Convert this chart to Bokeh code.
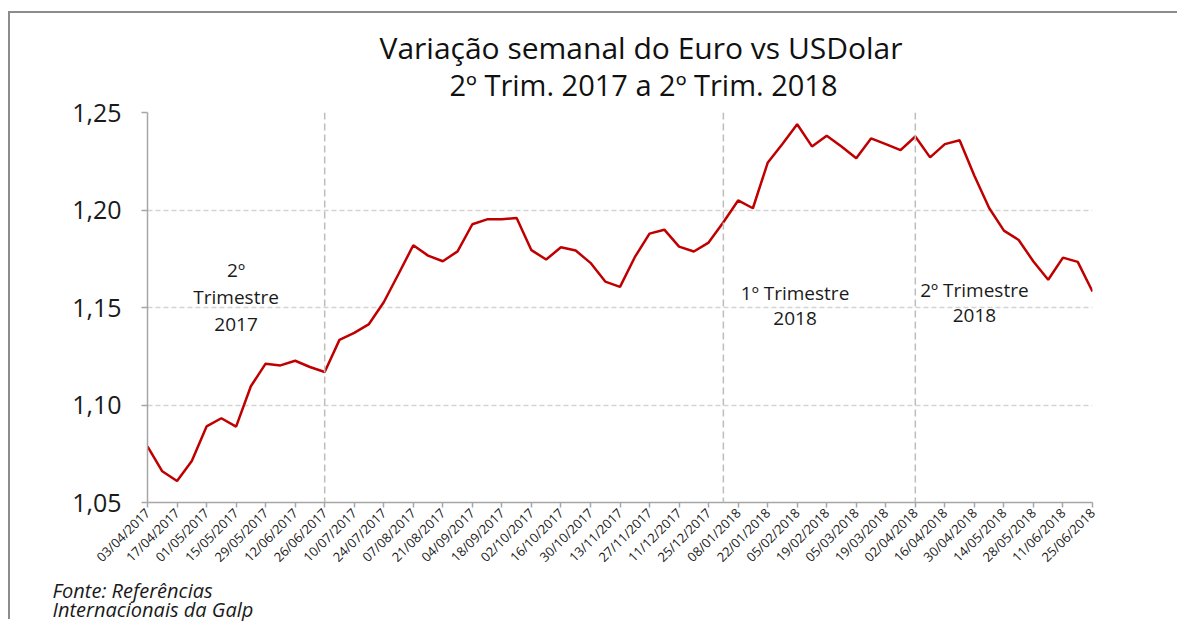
import math
import pandas as pd
from bokeh.plotting import figure
from bokeh.models import (Range1d, FixedTicker, DatetimeTickFormatter,
                          CustomJSTickFormatter, Span, Label, Title)
from bokeh.embed import file_html
from bokeh.resources import INLINE

# ---------------- data ----------------
first_week = "03/04/2017"
eur_usd = [
    1.0788, 1.0660, 1.0610, 1.0713, 1.0890, 1.0932, 1.0889, 1.1096, 1.1212, 1.1203,
    1.1227, 1.1195, 1.1169, 1.1334, 1.1370, 1.1415, 1.1527, 1.1672, 1.1819, 1.1766,
    1.1737, 1.1788, 1.1927, 1.1952, 1.1952, 1.1959, 1.1794, 1.1746, 1.1809, 1.1792,
    1.1729, 1.1633, 1.1606, 1.1758, 1.1879, 1.1899, 1.1812, 1.1787, 1.1833, 1.1937,
    1.2049, 1.2009, 1.2242, 1.2338, 1.2440, 1.2326, 1.2381, 1.2326, 1.2265, 1.2367,
    1.2338, 1.2307, 1.2377, 1.2270, 1.2338, 1.2358, 1.2176, 1.2010, 1.1894, 1.1846,
    1.1736, 1.1642, 1.1756, 1.1734, 1.1582,
]
tick_labels = [
    "03/04/2017", "17/04/2017", "01/05/2017", "15/05/2017", "29/05/2017",
    "12/06/2017", "26/06/2017", "10/07/2017", "24/07/2017", "07/08/2017",
    "21/08/2017", "04/09/2017", "18/09/2017", "02/10/2017", "16/10/2017",
    "30/10/2017", "13/11/2017", "27/11/2017", "11/12/2017", "25/12/2017",
    "08/01/2018", "22/01/2018", "05/02/2018", "19/02/2018", "05/03/2018",
    "19/03/2018", "02/04/2018", "16/04/2018", "30/04/2018", "14/05/2018",
    "28/05/2018", "11/06/2018", "25/06/2018",
]
quarter_breaks = ["26/06/2017", "01/01/2018", "02/04/2018"]
y_ticks = [1.05, 1.10, 1.15, 1.20, 1.25]

title_lines = ["Variação semanal do Euro vs USDolar", "2º Trim. 2017 a 2º Trim. 2018"]
source_lines = ["Fonte: Referências", "Internacionais da Galp"]
quarter_notes = [
    ("15/05/2017", [("2º", 1.1690), ("Trimestre", 1.1552), ("2017", 1.1414)]),
    ("04/02/2018", [("1º Trimestre", 1.1573), ("2018", 1.1445)]),
    ("30/04/2018", [("2º Trimestre", 1.1588), ("2018", 1.1460)]),
]

# ---------------- layout constants (pixels, canvas) ----------------
W, H = 1167, 608          # canvas placed at page (10, 13)
FL, FR, FT, FB = 137, 1082, 99, 489   # frame edges in canvas pixels
FONT = "Open Sans"

def to_dt(s):
    return pd.to_datetime(s, format="%d/%m/%Y")

def to_ms(ts):
    return (ts - pd.Timestamp("1970-01-01")) / pd.Timedelta(milliseconds=1)

weeks = pd.date_range(to_dt(first_week), periods=len(eur_usd), freq="7D")
x0, x1 = to_ms(weeks[0]), to_ms(weeks[-1])
y0, y1 = y_ticks[0], y_ticks[-1]

p = figure(width=W, height=H, output_backend="svg", toolbar_location=None,
           x_axis_type="datetime",
           x_range=Range1d(x0, x1),
           y_range=Range1d(y0, y1),
           min_border_left=FL, min_border_right=W - FR,
           min_border_top=FT, min_border_bottom=H - FB)
# chart-area frame line (left and top edges), drawn as a shadow outside the canvas
p.styles = {"margin-left": "10px", "margin-top": "13px", "overflow": "hidden",
            "box-shadow": "-2px -2px 0 0 #8c8c8c, 0 -2px 0 0 #8c8c8c"}
p.outline_line_color = None
p.background_fill_color = "white"
p.border_fill_color = "white"

# grid
p.xgrid.visible = False
p.ygrid.ticker = FixedTicker(ticks=y_ticks)
p.ygrid.grid_line_color = "#d4d4d4"
p.ygrid.grid_line_dash = "5 3"
p.ygrid.grid_line_width = 1.5

# y axis
p.yaxis.ticker = FixedTicker(ticks=y_ticks)
p.yaxis.formatter = CustomJSTickFormatter(code="return tick.toFixed(2).replace('.', ',');")
p.yaxis.axis_line_color = "#a6a6a6"
p.yaxis.axis_line_width = 1.5
p.yaxis.major_tick_line_color = "#a6a6a6"
p.yaxis.major_tick_line_width = 1.5
p.yaxis.major_tick_out = 6
p.yaxis.major_tick_in = 0
p.yaxis.minor_tick_line_color = None
p.yaxis.major_label_text_font = FONT
p.yaxis.major_label_text_font_size = "25px"
p.yaxis.major_label_text_color = "#1a1a1a"
p.yaxis.major_label_standoff = 20

# x axis
p.xaxis.ticker = FixedTicker(ticks=[to_ms(to_dt(s)) for s in tick_labels])
fmt = "%d/%m/%Y"
p.xaxis.formatter = DatetimeTickFormatter(
    milliseconds=fmt, seconds=fmt, minsec=fmt, minutes=fmt, hourmin=fmt,
    hours=fmt, days=fmt, months=fmt, years=fmt)
p.xaxis.axis_line_color = "#a6a6a6"
p.xaxis.axis_line_width = 1.5
p.xaxis.major_tick_line_color = "#a6a6a6"
p.xaxis.major_tick_line_width = 1.5
p.xaxis.major_tick_out = 5
p.xaxis.major_tick_in = 0
p.xaxis.minor_tick_line_color = None
p.xaxis.major_label_orientation = math.pi / 4
p.xaxis.major_label_text_font = FONT
p.xaxis.major_label_text_font_size = "13px"
p.xaxis.major_label_text_color = "#1a1a1a"
p.xaxis.major_label_standoff = 3

# quarter separators
for d in quarter_breaks:
    p.add_layout(Span(location=to_ms(to_dt(d)), dimension="height", line_color="#bdbdbd",
                      line_width=1.5, line_dash="7 4"))

# series
p.line(weeks, eur_usd, line_color="#c00000", line_width=2.5)

# quarter notes
for d, lines in quarter_notes:
    for txt, yv in lines:
        p.add_layout(Label(x=to_ms(to_dt(d)), y=yv, text=txt, text_align="center",
                           text_baseline="middle", text_font=FONT,
                           text_font_size="19px", text_color="#1a1a1a"))

# titles: the first one added sits nearest the frame
p.add_layout(Title(text=title_lines[1], align="left", offset=302, standoff=17,
                   text_font=FONT, text_font_size="29px", text_font_style="normal",
                   text_color="#111111"), "above")
p.add_layout(Title(text=title_lines[0], align="left", offset=232, standoff=-26,
                   text_font=FONT, text_font_size="30px", text_font_style="normal",
                   text_color="#111111"), "above")

# source note below the axis
p.add_layout(Title(text=source_lines[0], align="left", offset=-95, standoff=-2,
                   text_font=FONT, text_font_size="20px", text_font_style="italic",
                   text_color="#1a1a1a"), "below")
p.add_layout(Title(text=source_lines[1], align="left", offset=-95, standoff=-17,
                   text_font=FONT, text_font_size="20px", text_font_style="italic",
                   text_color="#1a1a1a"), "below")

open("out.html", "w").write(file_html(p, INLINE))
